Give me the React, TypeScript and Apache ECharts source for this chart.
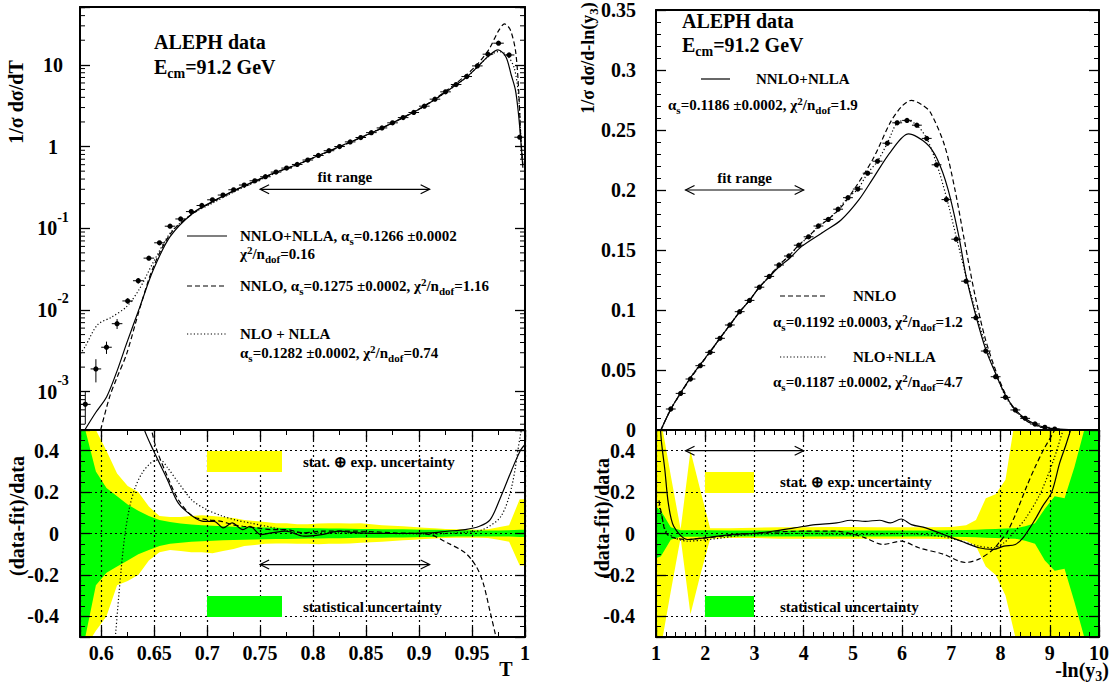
import React, { useEffect, useRef } from 'react';
import * as echarts from 'echarts';

const FONT = "'Liberation Serif', 'Times New Roman', Times, serif";
const INK = '#000000';
const YELLOW = '#ffff00';
const GREEN = '#00ff00';

// ================= Thrust (left) =================
const THRUST_BINS = [0.585, 0.595, 0.605, 0.615, 0.625, 0.635, 0.645, 0.655, 0.665, 0.675, 0.685, 0.695, 0.705, 0.715, 0.725, 0.735, 0.745, 0.755, 0.765, 0.775, 0.785, 0.795, 0.805, 0.815, 0.825, 0.835, 0.845, 0.855, 0.865, 0.875, 0.885, 0.895, 0.905, 0.915, 0.925, 0.935, 0.945, 0.955, 0.965, 0.975, 0.985, 0.995];
const THRUST_DATA = [7.0e-4, 1.9e-3, 3.5e-3, 6.8e-3, 0.0129, 0.0228, 0.0431, 0.0664, 0.106, 0.13, 0.16, 0.19, 0.223, 0.255, 0.296, 0.338, 0.381, 0.427, 0.487, 0.545, 0.604, 0.684, 0.778, 0.889, 1.0, 1.14, 1.29, 1.48, 1.69, 1.95, 2.26, 2.61, 3.12, 3.8, 4.67, 5.74, 7.19, 9.7, 13.5, 18.4, 13.2, 1.3];
const THRUST_ERR = [3e-4, 6e-4, 6e-4, 9.5e-4, 1e-3, 1.8e-3, 1.6e-3, 1.6e-3, 1.8e-3, 2e-3, 2e-3, 2e-3, 2.2e-3, 2.4e-3, 2.6e-3, 2.8e-3, 3e-3, 3.2e-3, 3.5e-3, 3.8e-3, 4e-3, 4.5e-3, 5e-3, 5.5e-3, 6e-3, 7e-3, 8e-3, 9e-3, 0.01, 0.012, 0.014, 0.016, 0.019, 0.022, 0.027, 0.033, 0.04, 0.055, 0.075, 0.1, 0.08, 0.02];
const THRUST_HALF_BIN = 0.005;

const T_NNLL_X = [0.5845, 0.595, 0.6052, 0.615, 0.624, 0.6366, 0.6492, 0.665, 0.687, 0.705, 0.725, 0.745, 0.765, 0.785, 0.805, 0.825, 0.845, 0.865, 0.885, 0.905, 0.925, 0.945, 0.955, 0.965, 0.9746, 0.982, 0.987, 0.991, 0.994, 0.996, 0.998];
const T_NNLL_Y = [3.4e-4, 5.6e-4, 8.7e-4, 1.8e-3, 3.9e-3, 0.011, 0.031, 0.079, 0.155, 0.212, 0.287, 0.377, 0.487, 0.604, 0.778, 1.0, 1.29, 1.69, 2.26, 3.12, 4.62, 7.1, 9.4, 12.6, 15.2, 12.5, 7.5, 4.9, 2.4, 1.2, 0.55];
const T_NNLO_X = [0.5995, 0.608, 0.615, 0.624, 0.636, 0.649, 0.666, 0.686, 0.705, 0.725, 0.745, 0.765, 0.785, 0.805, 0.825, 0.845, 0.865, 0.885, 0.905, 0.925, 0.945, 0.956, 0.966, 0.975, 0.9807, 0.986, 0.991, 0.994, 0.996, 0.998];
const T_NNLO_Y = [3.4e-4, 8.7e-4, 1.5e-3, 2.9e-3, 0.01, 0.033, 0.088, 0.15, 0.21, 0.286, 0.375, 0.48, 0.6, 0.77, 0.99, 1.28, 1.68, 2.27, 3.15, 4.75, 7.6, 10.5, 15.5, 26, 31.7, 27, 15, 5, 1.3, 0.6];
const T_NLO_X = [0.5802, 0.585, 0.5966, 0.61, 0.624, 0.636, 0.649, 0.666, 0.686, 0.705, 0.725, 0.745, 0.765, 0.785, 0.805, 0.825, 0.845, 0.865, 0.885, 0.905, 0.925, 0.945, 0.955, 0.965, 0.975, 0.983, 0.99, 0.994, 0.997];
const T_NLO_Y = [2.9e-3, 3.6e-3, 6.6e-3, 8.2e-3, 0.011, 0.018, 0.038, 0.09, 0.15, 0.203, 0.277, 0.366, 0.475, 0.6, 0.775, 1.0, 1.29, 1.69, 2.26, 3.12, 4.6, 7.05, 9.4, 12.5, 14.5, 13.2, 9.0, 4.0, 0.7];

const THRUST_FIT_RANGE = [0.75, 0.91];

// ratio panel (left)
const T_BAND_X = [0.58, 0.585, 0.595, 0.605, 0.615, 0.625, 0.635, 0.645, 0.655, 0.665, 0.675, 0.685, 0.695, 0.705, 0.715, 0.725, 0.735, 0.745, 0.755, 0.765, 0.775, 0.785, 0.795, 0.805, 0.815, 0.825, 0.835, 0.845, 0.855, 0.865, 0.875, 0.885, 0.895, 0.905, 0.915, 0.925, 0.935, 0.945, 0.955, 0.965, 0.975, 0.985, 0.995, 1.0];
const T_YEL_UP = [0.6, 0.55, 0.5, 0.4, 0.29, 0.23, 0.2, 0.13, 0.085, 0.08, 0.08, 0.085, 0.088, 0.085, 0.08, 0.075, 0.065, 0.06, 0.055, 0.05, 0.05, 0.045, 0.045, 0.048, 0.05, 0.05, 0.048, 0.05, 0.045, 0.04, 0.038, 0.035, 0.032, 0.028, 0.025, 0.022, 0.02, 0.02, 0.018, 0.02, 0.03, 0.04, 0.165, 0.165];
const T_YEL_LO = [0.6, 0.55, 0.47, 0.4, 0.25, 0.23, 0.2, 0.13, 0.09, 0.08, 0.085, 0.09, 0.09, 0.095, 0.085, 0.075, 0.06, 0.055, 0.05, 0.048, 0.048, 0.05, 0.05, 0.052, 0.05, 0.05, 0.048, 0.045, 0.042, 0.04, 0.036, 0.033, 0.03, 0.027, 0.024, 0.022, 0.02, 0.02, 0.02, 0.022, 0.03, 0.04, 0.155, 0.155];
const T_GRN_UP = [0.6, 0.5, 0.3, 0.22, 0.18, 0.14, 0.11, 0.085, 0.065, 0.055, 0.048, 0.043, 0.04, 0.037, 0.035, 0.033, 0.031, 0.03, 0.029, 0.028, 0.027, 0.026, 0.025, 0.025, 0.024, 0.024, 0.023, 0.022, 0.022, 0.021, 0.02, 0.02, 0.019, 0.018, 0.018, 0.017, 0.016, 0.016, 0.015, 0.015, 0.015, 0.016, 0.018, 0.018];
const T_GRN_LO = [0.6, 0.5, 0.25, 0.19, 0.16, 0.13, 0.1, 0.08, 0.06, 0.05, 0.045, 0.04, 0.037, 0.035, 0.033, 0.031, 0.03, 0.029, 0.028, 0.027, 0.026, 0.025, 0.024, 0.024, 0.023, 0.023, 0.022, 0.021, 0.021, 0.02, 0.019, 0.019, 0.018, 0.017, 0.017, 0.016, 0.015, 0.015, 0.014, 0.014, 0.014, 0.015, 0.017, 0.017];

const TR_NNLL_X = [0.636, 0.6406, 0.6491, 0.6626, 0.6728, 0.6863, 0.6964, 0.7066, 0.7151, 0.7235, 0.7337, 0.7404, 0.7506, 0.7607, 0.7743, 0.7912, 0.8081, 0.825, 0.842, 0.8758, 0.9096, 0.9266, 0.9435, 0.957, 0.9672, 0.9773, 0.9875, 0.9959, 1.0];
const TR_NNLL_Y = [0.6, 0.503, 0.403, 0.259, 0.147, 0.083, 0.059, 0.059, 0.027, 0.051, 0.019, 0.035, -0.005, 0.003, 0.011, -0.013, -0.005, 0.011, 0.003, 0, 0.003, 0.011, 0.019, 0.035, 0.067, 0.179, 0.307, 0.403, 0.43];
const TR_NNLO_X = [0.644, 0.6474, 0.6525, 0.6626, 0.6728, 0.6863, 0.6998, 0.7134, 0.7235, 0.7337, 0.7472, 0.7607, 0.7743, 0.7912, 0.8081, 0.842, 0.8758, 0.9096, 0.9266, 0.9435, 0.9537, 0.9604, 0.9672, 0.9723, 0.9756];
const TR_NNLO_Y = [0.6, 0.503, 0.403, 0.275, 0.163, 0.083, 0.067, 0.059, 0.043, 0.035, 0.027, 0.019, 0.019, 0.003, 0.011, 0.011, 0.003, -0.005, -0.045, -0.093, -0.157, -0.237, -0.381, -0.493, -0.57];
const TR_NLO_X = [0.612, 0.6135, 0.6186, 0.6227, 0.6271, 0.6321, 0.6389, 0.6491, 0.6558, 0.6626, 0.6728, 0.6863, 0.6998, 0.7134, 0.7269, 0.7404, 0.7607, 0.7743, 0.7912, 0.825, 0.8758, 0.9096, 0.9435, 0.9604, 0.9773, 0.9875, 0.9959, 0.9993];
const TR_NLO_Y = [-0.6, -0.493, -0.186, 0.006, 0.134, 0.222, 0.294, 0.35, 0.355, 0.318, 0.246, 0.158, 0.115, 0.086, 0.065, 0.051, 0.03, 0.014, 0.003, 0.003, 0, -0.002, 0.006, 0.019, 0.083, 0.227, 0.483, 0.55];

// ================= -ln(y3) (right) =================
const Y3_BINS = [1.3, 1.5, 1.7, 1.9, 2.1, 2.3, 2.5, 2.7, 2.9, 3.1, 3.3, 3.5, 3.7, 3.9, 4.1, 4.3, 4.5, 4.7, 4.9, 5.1, 5.3, 5.5, 5.7, 5.9, 6.1, 6.3, 6.5, 6.7, 6.9, 7.1, 7.3, 7.5, 7.7, 7.9, 8.1, 8.3, 8.5, 8.7, 8.9, 9.1];
const Y3_DATA = [0.0175, 0.0305, 0.0425, 0.0536, 0.0647, 0.0764, 0.0875, 0.0986, 0.108, 0.119, 0.128, 0.1375, 0.145, 0.154, 0.161, 0.17, 0.1755, 0.184, 0.1936, 0.2008, 0.214, 0.224, 0.239, 0.256, 0.258, 0.254, 0.243, 0.221, 0.192, 0.159, 0.124, 0.0936, 0.0658, 0.0444, 0.0272, 0.0167, 0.0097, 0.005, 0.0022, 0.0008];
const Y3_ERR = [0.0008, 0.001, 0.001, 0.0012, 0.0012, 0.0012, 0.0013, 0.0013, 0.0013, 0.0014, 0.0014, 0.0014, 0.0015, 0.0015, 0.0015, 0.0015, 0.0015, 0.0016, 0.0016, 0.0016, 0.0017, 0.0017, 0.0018, 0.0018, 0.0018, 0.0018, 0.0018, 0.0017, 0.0016, 0.0015, 0.0014, 0.0013, 0.0012, 0.001, 0.0009, 0.0008, 0.0006, 0.0005, 0.0004, 0.0003];
const Y3_HALF_BIN = 0.1;

const Y_NNLL_X = [1.1, 1.3, 1.5, 1.7, 1.9, 2.1, 2.3, 2.5, 2.7, 2.9, 3.1, 3.3, 3.5, 3.7, 3.96, 4.4, 4.76, 5.12, 5.41, 5.77, 6.13, 6.49, 6.71, 6.93, 7.15, 7.3, 7.5, 7.7, 7.9, 8.1, 8.3, 8.5, 8.7, 8.9, 9.1, 9.5, 10];
const Y_NNLL_Y = [0, 0.0172, 0.031, 0.0435, 0.0545, 0.0655, 0.0765, 0.0875, 0.0985, 0.108, 0.119, 0.1275, 0.136, 0.1425, 0.153, 0.165, 0.175, 0.1917, 0.2097, 0.232, 0.2467, 0.239, 0.226, 0.201, 0.162, 0.128, 0.095, 0.067, 0.047, 0.029, 0.017, 0.0095, 0.005, 0.0022, 0.001, 0.0002, 0];
const Y_NNLO_X = [1.1, 1.3, 1.5, 1.7, 1.9, 2.1, 2.3, 2.5, 2.7, 2.9, 3.1, 3.3, 3.5, 3.7, 3.9, 4.3, 4.7, 5.0, 5.41, 5.77, 6.0, 6.19, 6.4, 6.57, 6.86, 7.07, 7.27, 7.48, 7.69, 7.91, 8.1, 8.3, 8.5, 8.7, 9.0, 9.5, 10];
const Y_NNLO_Y = [0, 0.0172, 0.0305, 0.043, 0.054, 0.065, 0.0765, 0.0875, 0.0985, 0.108, 0.119, 0.128, 0.1375, 0.145, 0.154, 0.169, 0.183, 0.199, 0.226, 0.257, 0.27, 0.2747, 0.271, 0.265, 0.2375, 0.201, 0.157, 0.1125, 0.076, 0.0486, 0.03, 0.016, 0.0085, 0.004, 0.001, 0.0001, 0];
const Y_NLO_X = [1.1, 1.3, 1.5, 1.7, 1.9, 2.1, 2.3, 2.5, 2.7, 2.9, 3.1, 3.3, 3.5, 3.7, 3.9, 4.1, 4.3, 4.5, 4.7, 4.9, 5.1, 5.3, 5.5, 5.7, 5.9, 6.1, 6.3, 6.5, 6.7, 6.9, 7.1, 7.3, 7.5, 7.7, 7.9, 8.1, 8.3, 8.5, 8.7, 8.9, 9.1, 9.5, 10];
const Y_NLO_Y = [0, 0.0175, 0.0305, 0.0435, 0.055, 0.065, 0.0765, 0.0875, 0.0986, 0.108, 0.119, 0.128, 0.1375, 0.145, 0.154, 0.161, 0.17, 0.1755, 0.184, 0.1936, 0.2008, 0.214, 0.224, 0.239, 0.256, 0.258, 0.254, 0.243, 0.222, 0.194, 0.161, 0.128, 0.098, 0.07, 0.0475, 0.028, 0.0164, 0.0088, 0.0042, 0.0016, 0.0005, 0.0001, 0];

const Y3_FIT_RANGE = [1.6, 4.0];

const Y_BAND_X = [1.0, 1.1, 1.3, 1.5, 1.7, 1.9, 2.1, 2.5, 3, 3.5, 4, 4.5, 5, 5.5, 6, 6.5, 7, 7.3, 7.5, 7.7, 7.9, 8.1, 8.3, 8.5, 8.7, 8.9, 9.1, 9.3, 9.5, 9.7, 9.9, 10];
const Y_YEL_UP = [0.6, 0.55, 0.28, 0.02, 0.4, 0.21, 0.025, 0.025, 0.028, 0.03, 0.03, 0.032, 0.032, 0.03, 0.03, 0.03, 0.032, 0.04, 0.065, 0.17, 0.19, 0.26, 0.56, 0.6, 0.6, 0.6, 0.6, 0.6, 0.6, 0.6, 0.6, 0.6];
const Y_YEL_LO = [0.6, 0.55, 0.28, 0.02, 0.39, 0.2, 0.025, 0.022, 0.022, 0.025, 0.025, 0.025, 0.025, 0.025, 0.025, 0.025, 0.028, 0.035, 0.06, 0.16, 0.2, 0.3, 0.5, 0.6, 0.6, 0.6, 0.6, 0.6, 0.6, 0.6, 0.6, 0.6];
const Y_GRN_UP = [0.13, 0.11, 0.03, 0.016, 0.016, 0.016, 0.016, 0.015, 0.015, 0.015, 0.015, 0.015, 0.015, 0.015, 0.015, 0.015, 0.016, 0.017, 0.018, 0.02, 0.022, 0.024, 0.025, 0.035, 0.05, 0.12, 0.18, 0.17, 0.32, 0.5, 0.6, 0.6];
const Y_GRN_LO = [0.12, 0.11, 0.03, 0.016, 0.016, 0.016, 0.016, 0.015, 0.015, 0.015, 0.015, 0.015, 0.015, 0.015, 0.015, 0.015, 0.016, 0.017, 0.018, 0.02, 0.022, 0.024, 0.025, 0.035, 0.05, 0.13, 0.18, 0.17, 0.33, 0.5, 0.6, 0.6];

const YR_NNLL_X = [1.06, 1.108, 1.18, 1.25, 1.36, 1.64, 2.0, 2.51, 2.94, 3.37, 3.81, 4.24, 4.67, 4.96, 5.25, 5.54, 5.76, 5.98, 6.19, 6.48, 6.84, 7.2, 7.56, 7.85, 8.07, 8.3, 8.46, 8.7, 8.85, 9.04, 9.2, 9.33, 9.45];
const YR_NNLL_Y = [0.62, 0.45, 0.307, 0.147, 0.035, -0.029, -0.021, -0.005, 0, 0.011, 0.027, 0.043, 0.051, 0.064, 0.059, 0.064, 0.051, 0.07, 0.043, 0.027, -0.005, -0.037, -0.069, -0.077, -0.061, -0.053, -0.02, 0.067, 0.13, 0.2, 0.34, 0.43, 0.52];
const YR_NNLO_X = [1.06, 1.108, 1.23, 1.64, 2.0, 2.94, 3.95, 4.67, 5.03, 5.25, 5.61, 5.98, 6.34, 6.84, 7.28, 7.56, 7.85, 8.0, 8.12, 8.3, 8.53, 8.7, 8.87, 9.1, 9.2];
const YR_NNLO_Y = [0.16, 0.1, -0.005, -0.029, -0.021, 0, 0.011, 0.011, -0.005, -0.021, -0.053, -0.037, -0.069, -0.1, -0.14, -0.124, -0.077, -0.035, 0, 0.09, 0.227, 0.32, 0.403, 0.5, 0.55];
const YR_NLO_X = [1.06, 1.108, 1.23, 1.64, 2.07, 2.94, 4.0, 5.0, 6.0, 6.84, 7.56, 7.85, 8.07, 8.25, 8.5, 8.8, 9.07, 9.27, 9.35];
const YR_NLO_Y = [0.14, 0.09, 0.003, -0.037, -0.029, -0.005, 0, -0.005, 0, -0.016, -0.061, -0.069, -0.045, 0, 0.07, 0.19, 0.35, 0.5, 0.56];

// log-axis minor tick values (2..9 x decade)
const LOG_MINOR: number[] = [];
for (let e = -4; e <= 1; e++) {
  for (let m = 2; m <= 9; m++) {
    const v = m * Math.pow(10, e);
    if (v > 3.4e-4 && v < 51) LOG_MINOR.push(v);
  }
}

// ================= helpers =================
const pairs = (xs: number[], ys: number[]) => xs.map((x, i) => [x, ys[i]]);

const SOLID = 'solid';
const DASHED = [5, 3];
const DOTTED = [1.2, 2.2];

function lineSeries(xi: number, yi: number, xs: number[], ys: number[], dash: any) {
  return {
    type: 'line', xAxisIndex: xi, yAxisIndex: yi, data: pairs(xs, ys), showSymbol: false, symbol: 'none',
    smooth: 0.3, z: 5, silent: true, lineStyle: { color: INK, width: 1.2, type: dash },
  };
}

function pointsSeries(xi: number, yi: number, xs: number[], ys: number[], errs: number[], half: number) {
  return {
    type: 'custom', xAxisIndex: xi, yAxisIndex: yi, z: 6, silent: true, clip: true,
    data: xs.map((x, i) => [x, ys[i], errs[i]]),
    renderItem: (params: any, api: any) => {
      const x = api.value(0), y = api.value(1), e = api.value(2);
      const c = api.coord([x, y]);
      const l = api.coord([x - half, y]);
      const r = api.coord([x + half, y]);
      const t = api.coord([x, y + e]);
      const b = api.coord([x, Math.max(y - e, y * 0.05)]);
      const st = { stroke: INK, lineWidth: 1 };
      return {
        type: 'group', children: [
          { type: 'line', shape: { x1: l[0], y1: c[1], x2: r[0], y2: c[1] }, style: st },
          { type: 'line', shape: { x1: c[0], y1: t[1], x2: c[0], y2: b[1] }, style: st },
          { type: 'circle', shape: { cx: c[0], cy: c[1], r: 2.6 }, style: { fill: INK } },
        ],
      };
    },
  };
}

function bandSeries(xi: number, yi: number, xs: number[], up: number[], lo: number[], color: string, z: number) {
  return {
    type: 'custom', xAxisIndex: xi, yAxisIndex: yi, z, silent: true, clip: true,
    data: [[xs[0], 0]],
    renderItem: (params: any, api: any) => {
      const pts: number[][] = [];
      for (let i = 0; i < xs.length; i++) pts.push(api.coord([xs[i], up[i]]));
      for (let i = xs.length - 1; i >= 0; i--) pts.push(api.coord([xs[i], -lo[i]]));
      return { type: 'polygon', shape: { points: pts }, style: { fill: color } };
    },
  };
}

function arrowSeries(xi: number, yi: number, range: number[], y: number, withText: boolean) {
  return {
    type: 'custom', xAxisIndex: xi, yAxisIndex: yi, z: 7, silent: true,
    data: [[range[0], y]],
    renderItem: (params: any, api: any) => {
      const a = api.coord([range[0], y]);
      const b = api.coord([range[1], y]);
      const st = { stroke: INK, lineWidth: 1.2, fill: 'none' };
      const children: any[] = [
        { type: 'line', shape: { x1: a[0], y1: a[1], x2: b[0], y2: b[1] }, style: st },
        { type: 'polyline', shape: { points: [[a[0] + 9, a[1] - 4.5], [a[0], a[1]], [a[0] + 9, a[1] + 4.5]] }, style: st },
        { type: 'polyline', shape: { points: [[b[0] - 9, b[1] - 4.5], [b[0], b[1]], [b[0] - 9, b[1] + 4.5]] }, style: st },
      ];
      if (withText) {
        children.push({
          type: 'text', x: (a[0] + b[0]) / 2, y: a[1] - 12,
          style: { text: 'fit range', fontFamily: FONT, fontWeight: 'bold', fontSize: 15, fill: INK, align: 'center', verticalAlign: 'middle' },
        });
      }
      return { type: 'group', children };
    },
  };
}

function logMinorSeries() {
  return {
    type: 'custom', xAxisIndex: 0, yAxisIndex: 0, z: 4, silent: true,
    data: LOG_MINOR.map((v) => [0.7, v]),
    renderItem: (params: any, api: any) => {
      const cs = params.coordSys;
      const p = api.coord([0.7, api.value(1)]);
      const st = { stroke: INK, lineWidth: 1 };
      return {
        type: 'group', children: [
          { type: 'line', shape: { x1: cs.x, y1: p[1], x2: cs.x + 5, y2: p[1] }, style: st },
          { type: 'line', shape: { x1: cs.x + cs.width - 5, y1: p[1], x2: cs.x + cs.width, y2: p[1] }, style: st },
        ],
      };
    },
  };
}

function richStyles(size: number) {
  const base = { fontFamily: FONT, fontWeight: 'bold', fontSize: Math.round(size * 0.72), fill: INK, lineHeight: Math.round(size * 0.53) };
  return { sub: { ...base, verticalAlign: 'bottom' }, sup: { ...base, verticalAlign: 'top' } };
}

function label(x: number, y: number, text: string, size = 15, align = 'left', rotation = 0) {
  return {
    type: 'text', x, y, rotation, z: 30, silent: true,
    style: {
      text, fontFamily: FONT, fontWeight: 'bold', fontSize: size, fill: INK, align, verticalAlign: 'middle',
      lineHeight: Math.round(size * 1.33), rich: richStyles(size),
    },
  };
}

function sample(x1: number, x2: number, y: number, dash: any) {
  return { type: 'line', z: 30, silent: true, shape: { x1, y1: y, x2, y2: y }, style: { stroke: INK, lineWidth: 1.2, lineDash: dash } };
}

function box(x: number, y: number, w: number, h: number, fill: string) {
  return { type: 'rect', z: 30, silent: true, shape: { x, y, width: w, height: h }, style: { fill } };
}

const AXIS_LINE = { show: true, onZero: false, lineStyle: { color: INK, width: 2 } };
const TICK = { show: true, inside: true, length: 10, lineStyle: { color: INK, width: 1.3 } };
const NO_TICK = { show: false };
const minor = (n: number) => ({ show: true, splitNumber: n, length: 5, lineStyle: { color: INK, width: 1 } });
const NO_MINOR = { show: false };
const NO_LABEL = { show: false };
const NO_SPLIT = { show: false };
const GRIDLINE = { show: true, lineStyle: { color: INK, width: 1.2, type: [2, 3] } };

const fmtStep = (step: number) => (v: number) => {
  const k = v / step;
  return Math.abs(k - Math.round(k)) < 1e-6 ? String(parseFloat(v.toFixed(4))) : '';
};
const labelStyle = (margin: number, fmt: any, extra: any = {}) => ({
  show: true, color: INK, fontFamily: FONT, fontWeight: 'bold', fontSize: 20, margin, formatter: fmt, ...extra,
});
const logFmt = (v: number) => {
  const e = Math.log10(v);
  const r = Math.round(e);
  if (Math.abs(e - r) > 0.01) return '';
  if (r === 0) return '{n|1}';
  if (r === 1) return '{n|10}';
  return '{n|10}{e|' + r + '}';
};

export default function App() {
  const ref = useRef<HTMLDivElement>(null);
  useEffect(() => {
    const chart = echarts.init(ref.current!, null, { renderer: 'svg' });

    const xAxis = [
      { gridIndex: 0, type: 'value', min: 0.58, max: 1, splitNumber: 8, axisLine: AXIS_LINE, axisTick: NO_TICK, minorTick: NO_MINOR, axisLabel: NO_LABEL, splitLine: NO_SPLIT },
      { gridIndex: 0, type: 'value', position: 'top', min: 0.58, max: 1, splitNumber: 8, axisLine: AXIS_LINE, axisTick: NO_TICK, minorTick: NO_MINOR, axisLabel: NO_LABEL, splitLine: NO_SPLIT },
      { gridIndex: 1, type: 'value', min: 0.58, max: 1, splitNumber: 8, z: 3, axisLine: AXIS_LINE, axisTick: TICK, minorTick: minor(2), axisLabel: labelStyle(6, fmtStep(0.05)), splitLine: GRIDLINE },
      { gridIndex: 1, type: 'value', position: 'top', min: 0.58, max: 1, splitNumber: 8, z: 3, axisLine: AXIS_LINE, axisTick: TICK, minorTick: minor(2), axisLabel: NO_LABEL, splitLine: NO_SPLIT },
      { gridIndex: 2, type: 'value', min: 1, max: 10, interval: 1, axisLine: AXIS_LINE, axisTick: NO_TICK, minorTick: NO_MINOR, axisLabel: NO_LABEL, splitLine: NO_SPLIT },
      { gridIndex: 2, type: 'value', position: 'top', min: 1, max: 10, interval: 1, axisLine: AXIS_LINE, axisTick: NO_TICK, minorTick: NO_MINOR, axisLabel: NO_LABEL, splitLine: NO_SPLIT },
      { gridIndex: 3, type: 'value', min: 1, max: 10, interval: 1, z: 3, axisLine: AXIS_LINE, axisTick: TICK, minorTick: minor(5), axisLabel: labelStyle(6, fmtStep(1)), splitLine: GRIDLINE },
      { gridIndex: 3, type: 'value', position: 'top', min: 1, max: 10, interval: 1, z: 3, axisLine: AXIS_LINE, axisTick: TICK, minorTick: minor(5), axisLabel: NO_LABEL, splitLine: NO_SPLIT },
    ];

    const logRich = {
      n: { fontFamily: FONT, fontWeight: 'bold', fontSize: 20, lineHeight: 36, color: INK },
      e: { fontFamily: FONT, fontWeight: 'bold', fontSize: 14, lineHeight: 12, verticalAlign: 'top', color: INK },
    };

    const yAxis = [
      { gridIndex: 0, type: 'log', logBase: 10, min: 3.4e-4, max: 51, axisLine: AXIS_LINE, axisTick: TICK, minorTick: NO_MINOR, axisLabel: labelStyle(27, logFmt, { align: 'center', rich: logRich }), splitLine: NO_SPLIT },
      { gridIndex: 0, type: 'log', logBase: 10, position: 'right', min: 3.4e-4, max: 51, axisLine: AXIS_LINE, axisTick: TICK, minorTick: NO_MINOR, axisLabel: NO_LABEL, splitLine: NO_SPLIT },
      { gridIndex: 1, type: 'value', min: -0.5, max: 0.5, splitNumber: 5, z: 3, axisLine: AXIS_LINE, axisTick: TICK, minorTick: minor(4), axisLabel: labelStyle(21, fmtStep(0.2)), splitLine: GRIDLINE },
      { gridIndex: 1, type: 'value', position: 'right', min: -0.5, max: 0.5, splitNumber: 5, z: 3, axisLine: AXIS_LINE, axisTick: TICK, minorTick: minor(4), axisLabel: NO_LABEL, splitLine: NO_SPLIT },
      { gridIndex: 2, type: 'value', min: 0, max: 0.35, interval: 0.05, axisLine: AXIS_LINE, axisTick: TICK, minorTick: minor(5), axisLabel: labelStyle(20, fmtStep(0.05)), splitLine: NO_SPLIT },
      { gridIndex: 2, type: 'value', position: 'right', min: 0, max: 0.35, interval: 0.05, axisLine: AXIS_LINE, axisTick: TICK, minorTick: minor(5), axisLabel: NO_LABEL, splitLine: NO_SPLIT },
      { gridIndex: 3, type: 'value', min: -0.5, max: 0.5, splitNumber: 5, z: 3, axisLine: AXIS_LINE, axisTick: TICK, minorTick: minor(4), axisLabel: labelStyle(21, fmtStep(0.2)), splitLine: GRIDLINE },
      { gridIndex: 3, type: 'value', position: 'right', min: -0.5, max: 0.5, splitNumber: 5, z: 3, axisLine: AXIS_LINE, axisTick: TICK, minorTick: minor(4), axisLabel: NO_LABEL, splitLine: NO_SPLIT },
    ];

    const series: any[] = [
      // top-left: thrust distribution
      logMinorSeries(),
      lineSeries(0, 0, T_NNLL_X, T_NNLL_Y, SOLID),
      lineSeries(0, 0, T_NNLO_X, T_NNLO_Y, DASHED),
      lineSeries(0, 0, T_NLO_X, T_NLO_Y, DOTTED),
      pointsSeries(0, 0, THRUST_BINS, THRUST_DATA, THRUST_ERR, THRUST_HALF_BIN),
      arrowSeries(0, 0, THRUST_FIT_RANGE, 0.3, true),
      // bottom-left: ratio
      bandSeries(2, 2, T_BAND_X, T_YEL_UP, T_YEL_LO, YELLOW, 1),
      bandSeries(2, 2, T_BAND_X, T_GRN_UP, T_GRN_LO, GREEN, 2),
      lineSeries(2, 2, TR_NNLL_X, TR_NNLL_Y, SOLID),
      lineSeries(2, 2, TR_NNLO_X, TR_NNLO_Y, DASHED),
      lineSeries(2, 2, TR_NLO_X, TR_NLO_Y, DOTTED),
      arrowSeries(2, 2, THRUST_FIT_RANGE, -0.15, false),
      // top-right: -ln(y3) distribution
      lineSeries(4, 4, Y_NNLL_X, Y_NNLL_Y, SOLID),
      lineSeries(4, 4, Y_NNLO_X, Y_NNLO_Y, DASHED),
      lineSeries(4, 4, Y_NLO_X, Y_NLO_Y, DOTTED),
      pointsSeries(4, 4, Y3_BINS, Y3_DATA, Y3_ERR, Y3_HALF_BIN),
      arrowSeries(4, 4, Y3_FIT_RANGE, 0.2, true),
      // bottom-right: ratio
      bandSeries(6, 6, Y_BAND_X, Y_YEL_UP, Y_YEL_LO, YELLOW, 1),
      bandSeries(6, 6, Y_BAND_X, Y_GRN_UP, Y_GRN_LO, GREEN, 2),
      lineSeries(6, 6, YR_NNLL_X, YR_NNLL_Y, SOLID),
      lineSeries(6, 6, YR_NNLO_X, YR_NNLO_Y, DASHED),
      lineSeries(6, 6, YR_NLO_X, YR_NLO_Y, DOTTED),
      arrowSeries(6, 6, Y3_FIT_RANGE, 0.4, false),
    ];

    const graphic: any[] = [
      // axis titles
      label(16, 102, '1/σ dσ/dT', 20, 'center', Math.PI / 2),
      label(17, 516, '(data-fit)/data', 20, 'center', Math.PI / 2),
      label(506, 669, 'T', 20, 'center'),
      label(588, 58, '1/σ dσ/d-ln(y{sub|3})', 18, 'center', Math.PI / 2),
      label(602, 518, '(data-fit)/data', 20, 'center', Math.PI / 2),
      label(1109, 670, '-ln(y{sub|3})', 20, 'right'),
      // top-left annotations
      label(154, 42, 'ALEPH data', 20),
      label(154, 67, 'E{sub|cm}=91.2 GeV', 20),
      sample(187, 227, 236, null),
      label(240, 236, 'NNLO+NLLA, α{sub|s}=0.1266 ±0.0002', 15),
      label(240, 254, 'χ{sup|2}/n{sub|dof}=0.16', 15),
      sample(187, 227, 286, [5, 3]),
      label(240, 286, 'NNLO, α{sub|s}=0.1275 ±0.0002, χ{sup|2}/n{sub|dof}=1.16', 15),
      sample(187, 227, 334, [1.2, 2.2]),
      label(240, 334, 'NLO + NLLA', 15),
      label(240, 353, 'α{sub|s}=0.1282 ±0.0002, χ{sup|2}/n{sub|dof}=0.74', 15),
      // bottom-left legend
      box(207, 451, 75, 21, YELLOW),
      label(303, 462, 'stat. ⊕ exp. uncertainty', 15),
      box(207, 596, 75, 21, GREEN),
      label(303, 607, 'statistical uncertainty', 15),
      // top-right annotations
      label(682, 21, 'ALEPH data', 20),
      label(682, 45, 'E{sub|cm}=91.2 GeV', 20),
      sample(701, 730, 79, null),
      label(756, 79, 'NNLO+NLLA', 15),
      label(668, 105, 'α{sub|s}=0.1186 ±0.0002, χ{sup|2}/n{sub|dof}=1.9', 15),
      sample(780, 827, 296, [5, 3]),
      label(853, 296, 'NNLO', 15),
      label(773, 322, 'α{sub|s}=0.1192 ±0.0003, χ{sup|2}/n{sub|dof}=1.2', 15),
      sample(780, 827, 357, [1.2, 2.2]),
      label(853, 357, 'NLO+NLLA', 15),
      label(773, 382, 'α{sub|s}=0.1187 ±0.0002, χ{sup|2}/n{sub|dof}=4.7', 15),
      // bottom-right legend
      box(705, 472, 49, 21, YELLOW),
      label(780, 482, 'stat. ⊕ exp. uncertainty', 15),
      box(705, 596, 49, 21, GREEN),
      label(780, 607, 'statistical uncertainty', 15),
    ];

    chart.setOption({
      animation: false,
      backgroundColor: '#ffffff',
      grid: [
        { left: 80, top: 7, width: 445, height: 423 },
        { left: 80, top: 430, width: 445, height: 207 },
        { left: 656, top: 7, width: 443, height: 423 },
        { left: 656, top: 430, width: 443, height: 207 },
      ],
      xAxis, yAxis, series, graphic,
    });
    return () => chart.dispose();
  }, []);
  return <div ref={ref} style={{ position: 'fixed', left: 0, top: 0, width: 1112, height: 684, background: '#fff' }} />;
}
